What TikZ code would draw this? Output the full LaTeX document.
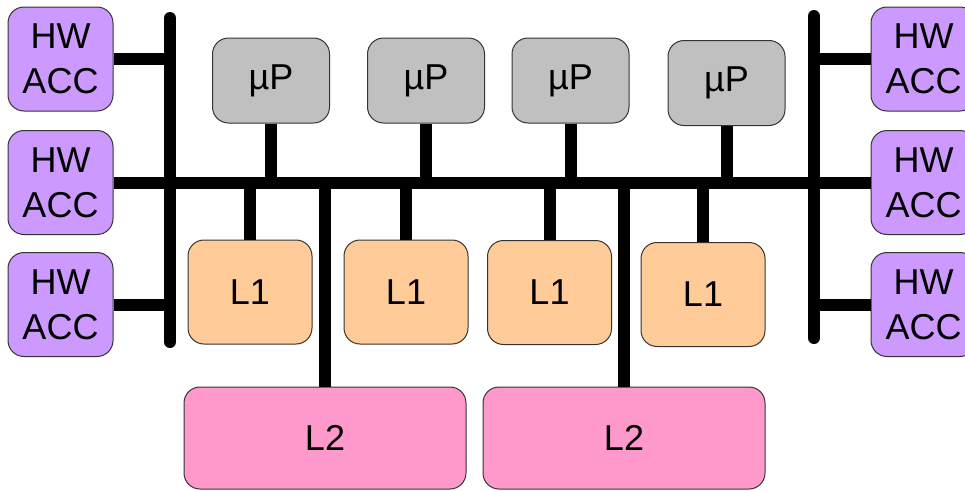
\documentclass[tikz,border=0pt]{standalone}
\usepackage{fontspec}
\setmainfont{Liberation Sans}
\definecolor{hwc}{HTML}{CC99FF}
\definecolor{upc}{HTML}{C0C0C0}
\definecolor{lonec}{HTML}{FFCC99}
\definecolor{ltwoc}{HTML}{FF99CC}
\definecolor{edgec}{HTML}{333333}
\tikzset{
  box/.style={draw=edgec, line width=1pt, rounded corners=16pt, inner sep=0pt, align=center, font=\fontsize{36}{45}\selectfont},
  hw/.style={box, fill=hwc, minimum width=105pt, minimum height=104pt},
  up/.style={box, fill=upc, minimum width=117pt, minimum height=85pt},
  lone/.style={box, fill=lonec, minimum width=124pt, minimum height=104pt},
  ltwo/.style={box, fill=ltwoc, minimum width=282pt, minimum height=102pt},
  bus/.style={line width=12pt, line cap=round},
  link/.style={line width=12pt}
}
\begin{document}
\begin{tikzpicture}[x=1pt,y=-1pt]
\clip (0,0) rectangle (965,490);
\useasboundingbox (0,0) rectangle (965,490);
% nodes
\node[hw] (hwl1) at (60.5,59) {HW\\ACC};
\node[hw] (hwl2) at (60.5,182.5) {HW\\ACC};
\node[hw] (hwl3) at (60.5,304.5) {HW\\ACC};
\node[hw] (hwr1) at (923.5,59) {HW\\ACC};
\node[hw] (hwr2) at (923.5,182.5) {HW\\ACC};
\node[hw] (hwr3) at (923.5,304.5) {HW\\ACC};
\node[up] (p1) at (271,80.5) {µP};
\node[up] (p2) at (426,80.5) {µP};
\node[up] (p3) at (570.5,80.5) {µP};
\node[up] (p4) at (726.5,83) {µP};
\node[lone] (c1) at (250,292) {L1};
\node[lone] (c2) at (406,292) {L1};
\node[lone] (c3) at (549.5,292.5) {L1};
\node[lone] (c4) at (703,294.5) {L1};
\node[ltwo] (m1) at (325,438) {L2};
\node[ltwo] (m2) at (624,438) {L2};
% bus end points
\coordinate (lbt) at (170,18);
\coordinate (lbb) at (170,342);
\coordinate (rbt) at (814,16);
\coordinate (rbb) at (814,338);
% buses
\draw[bus] (lbt) -- (lbb);
\draw[bus] (rbt) -- (rbb);
\draw[link] (hwl2.east) -- (hwr2.west);
% links to side buses
\draw[link] (hwl1.east) -- (hwl1.east -| lbt);
\draw[link] (hwl3.east) -- (hwl3.east -| lbt);
\draw[link] (hwr1.west) -- (hwr1.west -| rbt);
\draw[link] (hwr3.west) -- (hwr3.west -| rbt);
% processors
\foreach \n in {p1,p2,p3,p4} \draw[link] (\n.south) -- (\n.south |- hwl2.east);
% L1 caches
\foreach \n in {c1,c2,c3,c4} \draw[link] (\n.north) -- (\n.north |- hwl2.east);
% L2 caches
\foreach \n in {m1,m2} \draw[link] (\n.north) -- (\n.north |- hwl2.east);
\end{tikzpicture}
\end{document}
